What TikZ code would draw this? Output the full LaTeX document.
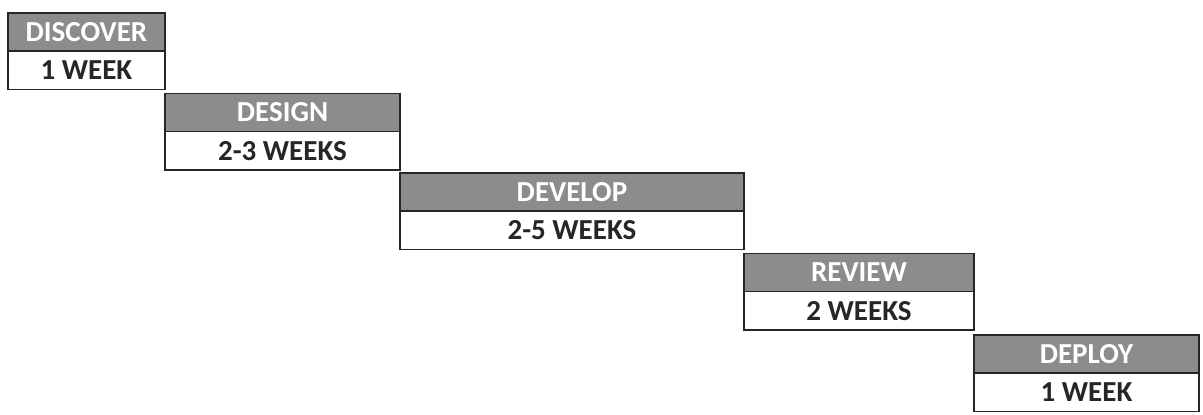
\documentclass[tikz,border=0pt]{standalone}
\usepackage{fontspec}
\setmainfont{Carlito}
\usetikzlibrary{positioning}
\definecolor{phasegray}{HTML}{8C8C8C}

\begin{document}
\begin{tikzpicture}[x=1pt, y=-1pt,
		phase/.style={draw=black!85, line width=1.2pt, fill=phasegray, text=white,
			font=\fontsize{29}{31}\selectfont\bfseries, minimum height=38pt,
			inner sep=0pt, outer sep=0pt},
		span/.style={draw=black!85, line width=1.2pt, fill=white, text=black!85,
			font=\fontsize{29}{31}\selectfont\bfseries, minimum height=38.5pt,
			inner sep=0pt, outer sep=0pt}]
		
		\useasboundingbox (0,0) rectangle (1203,415);
		
		% discover
		\node[phase, minimum width=157pt, anchor=north west] (discover) at (8,13) {DISCOVER};
		\node[span, minimum width=157pt, below=0pt of discover] (discoverT) {1 WEEK};
		
		% design
		\node[phase, minimum width=235pt, anchor=north west] (design)
		at ([yshift=-4pt]discoverT.south east) {DESIGN};
		\node[span, minimum width=235pt, below=0pt of design] (designT) {2-3 WEEKS};
		
		% develop
		\node[phase, minimum width=344pt, anchor=north west] (develop)
		at ([yshift=-3pt]designT.south east) {DEVELOP};
		\node[span, minimum width=344pt, below=0pt of develop] (developT) {2-5 WEEKS};
		
		% review
		\node[phase, minimum width=230pt, anchor=north west] (review)
		at ([yshift=-4pt]developT.south east) {REVIEW};
		\node[span, minimum width=230pt, below=0pt of review] (reviewT) {2 WEEKS};
		
		% deploy
		\node[phase, minimum width=225pt, anchor=north west] (deploy)
		at ([yshift=-5pt]reviewT.south east) {DEPLOY};
		\node[span, minimum width=225pt, below=0pt of deploy] (deployT) {1 WEEK};
		
	\end{tikzpicture}
\end{document}
